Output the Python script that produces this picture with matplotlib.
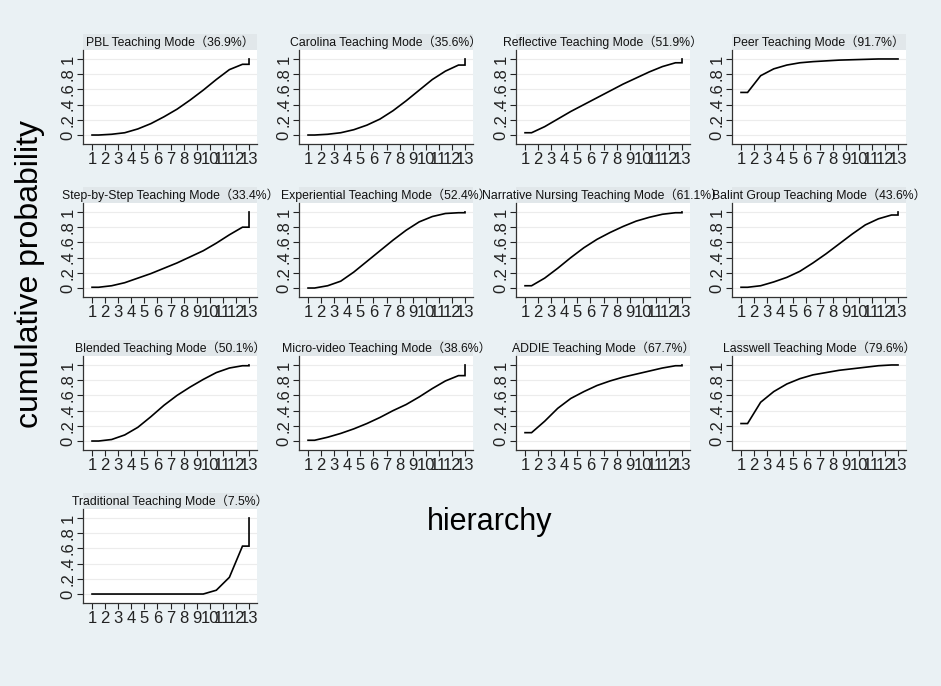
import numpy as np
import matplotlib
matplotlib.use("Agg")
import matplotlib.pyplot as plt
from matplotlib.patches import Rectangle

plt.rcParams['font.family'] = ['Liberation Sans', 'Noto Sans CJK SC', 'DejaVu Sans']

# panel names and SUCRA values
names = ["PBL Teaching Mode", "Carolina Teaching Mode", "Reflective Teaching Mode",
         "Peer Teaching Mode", "Step-by-Step Teaching Mode", "Experiential Teaching Mode",
         "Narrative Nursing Teaching Mode", "Balint Group Teaching Mode",
         "Blended Teaching Mode", "Micro-video Teaching Mode", "ADDIE Teaching Mode",
         "Lasswell Teaching Mode", "Traditional Teaching Mode"]
sucra = ["36.9%", "35.6%", "51.9%", "91.7%", "33.4%", "52.4%", "61.1%", "43.6%",
         "50.1%", "38.6%", "67.7%", "79.6%", "7.5%"]

# cumulative probability of being within the first k ranks, k = 1..12 (k = 13 is 1)
pbl = [0.00, 0.01, 0.03, 0.08, 0.15, 0.24, 0.34, 0.46, 0.59, 0.73, 0.86, 0.93]
carolina = [0.00, 0.01, 0.03, 0.07, 0.13, 0.21, 0.32, 0.45, 0.59, 0.73, 0.84, 0.92]
reflective = [0.03, 0.11, 0.21, 0.31, 0.40, 0.49, 0.58, 0.67, 0.75, 0.83, 0.90, 0.95]
peer = [0.56, 0.78, 0.87, 0.92, 0.95, 0.965, 0.975, 0.985, 0.99, 0.995, 1.00, 1.00]
stepbystep = [0.01, 0.03, 0.07, 0.13, 0.19, 0.26, 0.33, 0.41, 0.49, 0.59, 0.70, 0.80]
experiential = [0.00, 0.03, 0.09, 0.21, 0.35, 0.49, 0.63, 0.76, 0.87, 0.94, 0.98, 0.99]
narrative = [0.03, 0.13, 0.26, 0.40, 0.53, 0.64, 0.73, 0.81, 0.88, 0.93, 0.97, 0.99]
balint = [0.01, 0.03, 0.08, 0.14, 0.22, 0.33, 0.45, 0.58, 0.71, 0.83, 0.91, 0.96]
blended = [0.00, 0.02, 0.08, 0.18, 0.32, 0.47, 0.60, 0.71, 0.81, 0.90, 0.96, 0.99]
microvideo = [0.01, 0.05, 0.10, 0.16, 0.23, 0.31, 0.40, 0.48, 0.58, 0.69, 0.79, 0.86]
addie = [0.11, 0.26, 0.43, 0.56, 0.65, 0.73, 0.79, 0.84, 0.88, 0.92, 0.96, 0.99]
lasswell = [0.23, 0.51, 0.65, 0.75, 0.82, 0.87, 0.90, 0.93, 0.95, 0.97, 0.99, 1.00]
traditional = [0, 0, 0, 0, 0, 0, 0, 0, 0, 0.05, 0.22, 0.63]

curves = [pbl, carolina, reflective, peer, stepbystep, experiential, narrative,
          balint, blended, microvideo, addie, lasswell, traditional]

ranks = list(range(1, 14))
ytick_vals = [0, 0.2, 0.4, 0.6, 0.8, 1]
ytick_text = ["0", ".2", ".4", ".6", ".8", "1"]

W, H = 941, 686
bg = "#eaf1f4"
band = "#e1e7ea"

fig = plt.figure(figsize=(W / 100, H / 100), dpi=100, facecolor=bg)

lefts = [83, 299, 516, 732]
aw, ah = 174, 94

for i, (name, s, c) in enumerate(zip(names, sucra, curves)):
    row, col = divmod(i, 4)
    top = 50 + 153 * row
    ax = fig.add_axes([lefts[col] / W, 1 - (top + ah) / H, aw / W, ah / H])
    ax.set_facecolor("white")

    # step shape: flat to 1.5, points at k+0.5, flat to 13, then up to 1
    xs = [1] + [k + 0.5 for k in range(1, 13)] + [13, 13]
    ys = [c[0]] + list(c) + [c[-1], 1.0]
    ax.plot(xs, ys, color="black", lw=1.2, solid_joinstyle="miter")

    ax.set_xlim(0.31, 13.61)
    ax.set_ylim(-0.118, 1.118)
    ax.set_xticks(ranks)
    ax.set_xticklabels([str(r) for r in ranks], fontsize=12)
    ax.set_yticks(ytick_vals)
    ax.set_yticklabels(ytick_text, fontsize=12, rotation=90, va="center")
    for y in ytick_vals:
        ax.axhline(y, color="#ececec", lw=0.8, zorder=0)
    ax.tick_params(axis="both", direction="out", length=4, width=0.8, pad=1.5,
                   colors="#222222")
    for sp in ["top", "right"]:
        ax.spines[sp].set_visible(False)
    for sp in ["left", "bottom"]:
        ax.spines[sp].set_color("#333333")
        ax.spines[sp].set_linewidth(0.9)

    bh = 16 / ah
    ax.add_patch(Rectangle((0, 1), 1, bh, transform=ax.transAxes, facecolor=band,
                           edgecolor="none", clip_on=False))
    ax.text(0.5, 1 + bh / 2, f"{name}（{s}）", transform=ax.transAxes,
            ha="center", va="center", fontsize=8.8, color="#111111")

fig.text(30 / W, 1 - 274 / H, "cumulative probability", rotation=90,
         ha="center", va="center", fontsize=23)
fig.text(490 / W, 1 - 522 / H, "hierarchy", ha="center", va="center", fontsize=22)

fig.savefig("out.png", dpi=100, facecolor=bg)
